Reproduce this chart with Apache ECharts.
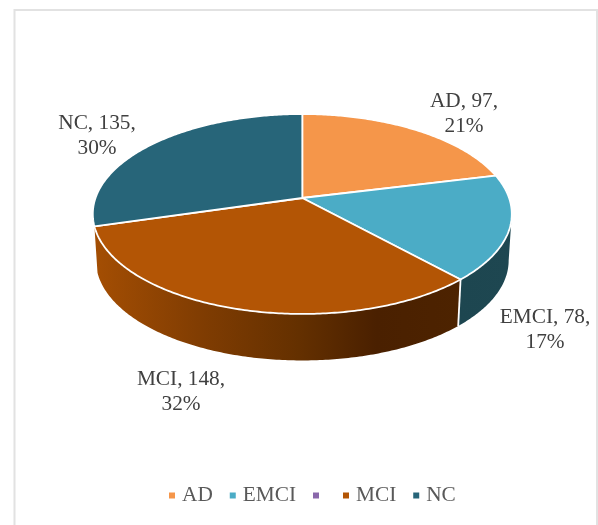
<!DOCTYPE html>
<html>
<head>
<meta charset="utf-8">
<style>html,body{margin:0;padding:0;background:#fff}#chart{width:598px;height:525px}</style>
<script src="https://cdn.jsdelivr.net/npm/echarts@6/dist/echarts.min.js"></script>
</head>
<body>
<div id="chart"></div>
<script>
// Diagnostic groups and subject counts; the third legend entry has no name and no subjects.
const categories = ['AD', 'EMCI', '\u200b', 'MCI', 'NC'];
const counts = [97, 78, 0, 148, 135];
const percents = [21, 17, 0, 32, 30];

const topColors = ['#F5964A', '#4BACC6', '#8A68AB', '#B35505', '#276579'];

// Wall shading runs left to right across each slice's front rim.
const wallStops = {
  EMCI: [[0, '#1D4650'], [1, '#1E4751']],
  MCI: [[0, '#A44E03'], [0.3, '#7F3C02'], [0.56, '#643000'], [0.77, '#4A2000'], [1, '#4D2300']]
};

// Label anchors: centre of the two-line text block, in pixels.
const labelCentres = { AD: [464, 114], EMCI: [545, 330], MCI: [181, 392], NC: [97, 136] };

// Perspective model of the tilted disc.
const view = { cx: 302.3, cy: 198, a: 206.8, b: 97.4, k: 0.16, depth: 46.5, shrink: 0.985 };
const total = counts.reduce((s, v) => s + v, 0);
const tangent = Math.acos(-view.k);

function project(theta, lower) {
  const den = 1 + view.k * Math.cos(theta);
  const s = lower ? view.shrink : 1;
  return [
    view.cx + s * view.a * Math.sin(theta) / den,
    view.cy + (lower ? view.depth : 0) - view.b * Math.cos(theta) / den
  ];
}

function arc(from, to, lower) {
  const n = Math.max(2, Math.ceil(Math.abs(to - from) / 0.012));
  const pts = [];
  for (let i = 0; i <= n; i++) pts.push(project(from + (to - from) * i / n, lower));
  return pts;
}

function sliceRange(index) {
  const before = counts.slice(0, index).reduce((s, v) => s + v, 0);
  const start = before / total * Math.PI * 2;
  return [start, start + counts[index] / total * Math.PI * 2];
}

function renderSlice(index, api) {
  const name = categories[index];
  const value = api.value(0);
  const children = [];
  if (value > 0) {
    const range = sliceRange(index);
    const wallFrom = Math.max(range[0], tangent);
    const wallTo = Math.min(range[1], Math.PI * 2 - tangent + 0.001);
    const stops = wallStops[name];
    if (stops && wallTo > wallFrom) {
      children.push({
        type: 'polygon',
        shape: { points: arc(wallFrom, wallTo, false).concat(arc(wallTo, wallFrom, true)) },
        style: {
          fill: {
            type: 'linear', x: 0, y: 0, x2: 1, y2: 0,
            colorStops: stops.map(s => ({ offset: s[0], color: s[1] }))
          }
        }
      });
      if (range[0] > tangent) {
        const p = project(range[0], false), q = project(range[0], true);
        children.push({
          type: 'line',
          shape: { x1: p[0], y1: p[1], x2: q[0], y2: q[1] },
          style: { stroke: '#fff', lineWidth: 1.8 }
        });
      }
    }
    children.push({
      type: 'polygon',
      shape: { points: [[view.cx, view.cy]].concat(arc(range[0], range[1], false)) },
      style: { fill: topColors[index], stroke: '#fff', lineWidth: 1.8, lineJoin: 'round' }
    });
  }
  return { type: 'group', children: children };
}

function renderLabel(index, api) {
  const name = categories[index];
  const value = api.value(0);
  const c = labelCentres[name];
  return {
    type: 'text',
    style: {
      x: c[0], y: c[1],
      text: name + ', ' + value + ',\n' + percents[index] + '%',
      align: 'center', verticalAlign: 'middle',
      font: '21.3px "Liberation Serif"', lineHeight: 24.5, fill: '#404040'
    }
  };
}

const series = categories.map((name, i) => ({
  type: 'custom',
  name: name,
  coordinateSystem: 'none',
  data: [[counts[i]]],
  itemStyle: { color: topColors[i] },
  silent: true,
  animation: false,
  renderItem: (params, api) => renderSlice(i, api),
  z: 2
}));

// Text goes on in a separate pass so it stays above every slice.
categories.forEach((name, i) => {
  if (counts[i] > 0) {
    series.push({
      type: 'custom',
      name: name + ' label',
      coordinateSystem: 'none',
      data: [[counts[i]]],
      silent: true,
      animation: false,
      renderItem: (params, api) => renderLabel(i, api),
      z: 3
    });
  }
});

const chart = echarts.init(document.getElementById('chart'), null, { renderer: 'canvas' });
chart.setOption({
  backgroundColor: '#fff',
  animation: false,
  graphic: [{
    type: 'rect',
    silent: true,
    z: 0,
    shape: { x: 14.5, y: 10, width: 582.5, height: 540 },
    style: { fill: 'none', stroke: '#E2E2E2', lineWidth: 2 }
  }],
  legend: {
    data: categories,
    selectedMode: false,
    left: 164,
    top: 480,
    icon: 'rect',
    itemWidth: 6,
    itemHeight: 6,
    itemGap: 17,
    textStyle: {
      fontFamily: '"Liberation Serif"',
      fontSize: 21.3,
      color: '#595959',
      padding: [0, 0, 0, 2]
    }
  },
  series: series
});
</script>
</body>
</html>
